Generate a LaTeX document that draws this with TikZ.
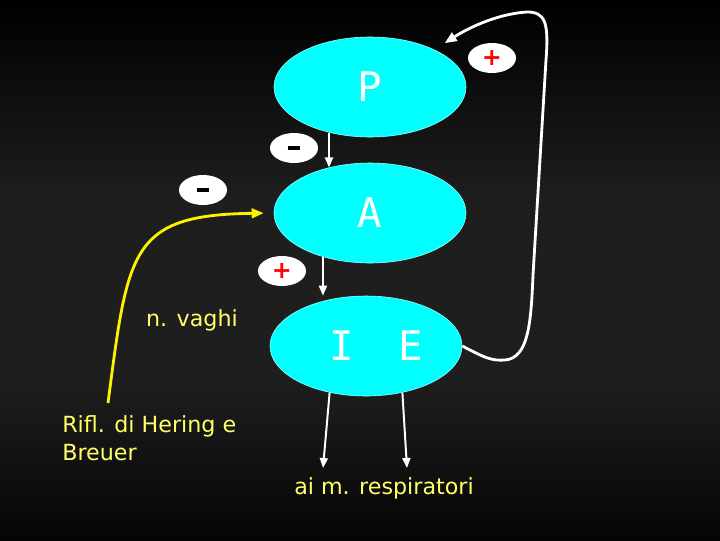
\documentclass[tikz,border=0pt]{standalone}
\usepackage{fontspec}
\setmainfont{DejaVu Sans}
\newfontfamily\bigletters{DejaVu Sans Mono}
\usetikzlibrary{arrows.meta,shapes.geometric}
\definecolor{bgmid}{HTML}{1E1E1E}
\definecolor{bgedge}{HTML}{050505}
\definecolor{centro}{HTML}{00FFFF}
\definecolor{paleyellow}{HTML}{FFFF66}

\begin{document}
\begin{tikzpicture}[
    x=0.025cm, y=0.025cm,
    ctr/.style={ellipse, fill=centro, draw=centro!40!white, minimum width=4.8cm, minimum height=2.5cm, inner sep=0pt, text=white, font=\bigletters\fontsize{29}{32}\selectfont},
    sgn/.style={ellipse, fill=white, minimum width=1.2cm, minimum height=0.75cm, inner sep=0pt},
    lbl/.style={text=paleyellow, font=\fontsize{15.8}{20}\selectfont, inner sep=0pt},
    arr/.style={-{Triangle[length=2.5mm,width=2mm]}, white, line width=1.4pt},
    fb/.style={-{Triangle[length=3mm,width=2.4mm]}, white, line width=2pt},
    vag/.style={-{Triangle[length=3mm,width=2.4mm]}, yellow, line width=2pt}
  ]
  % sfondo
  \fill[bgmid] (0,0) rectangle (720,-540);
  \shade[top color=black, bottom color=bgmid] (0,0) rectangle (720,-200);
  \shade[top color=bgmid, bottom color=bgedge] (0,-380) rectangle (720,-540);
  % centri respiratori
  \node[ctr] (P) at (370,-87) {P};
  \node[ctr] (A) at (370,-213) {A};
  \node[ctr] (IE) at (366,-346) {\hspace{0.5cm}I\hspace{1.1cm}E};
  % segni
  \node[sgn] (s1) at (294,-148) {\color{black}\rule{0.32cm}{0.12cm}};
  \node[sgn] (s2) at (203,-190) {\color{black}\rule{0.32cm}{0.12cm}};
  \node[sgn, text=red, font=\bfseries\fontsize{17}{17}\selectfont] (s3) at (282,-271) {+};
  \node[sgn, text=red, font=\bfseries\fontsize{17}{17}\selectfont] (s4) at (492,-58) {+};
  % testi
  \node[lbl] (vaghi) at (192,-320) {n. vaghi};
  \node[lbl, align=left, anchor=north west] (hering) at (62,-415) {Rifl. di Hering e\\Breuer};
  \node[lbl] (musc) at (384,-488) {ai m. respiratori};
  \coordinate (yfoot) at (108,-403);
  \coordinate (m1) at (323,-468);
  \coordinate (m2) at (407,-468);
  % frecce
  \draw[arr] (P.228) -- (A.132);
  \draw[arr] (A.223) -- (A.223 |- IE.north);
  \draw[arr] (IE.232) -- (m1);
  \draw[arr] (IE.308) -- (m2);
  \draw[fb, shorten >=0.3cm] (IE.east) .. controls (485,-358) and (492,-361) .. (505,-360)
    .. controls (528,-358) and (531,-325) .. (533,-275) -- (546,-60)
    .. controls (549,-22) and (545,-12) .. (527,-12) .. controls (495,-14) and (465,-30) .. (P.30);
  \draw[vag, shorten >=0.25cm] (yfoot) .. controls (128,-250) and (130,-215) .. (A.west);
\end{tikzpicture}
\end{document}
